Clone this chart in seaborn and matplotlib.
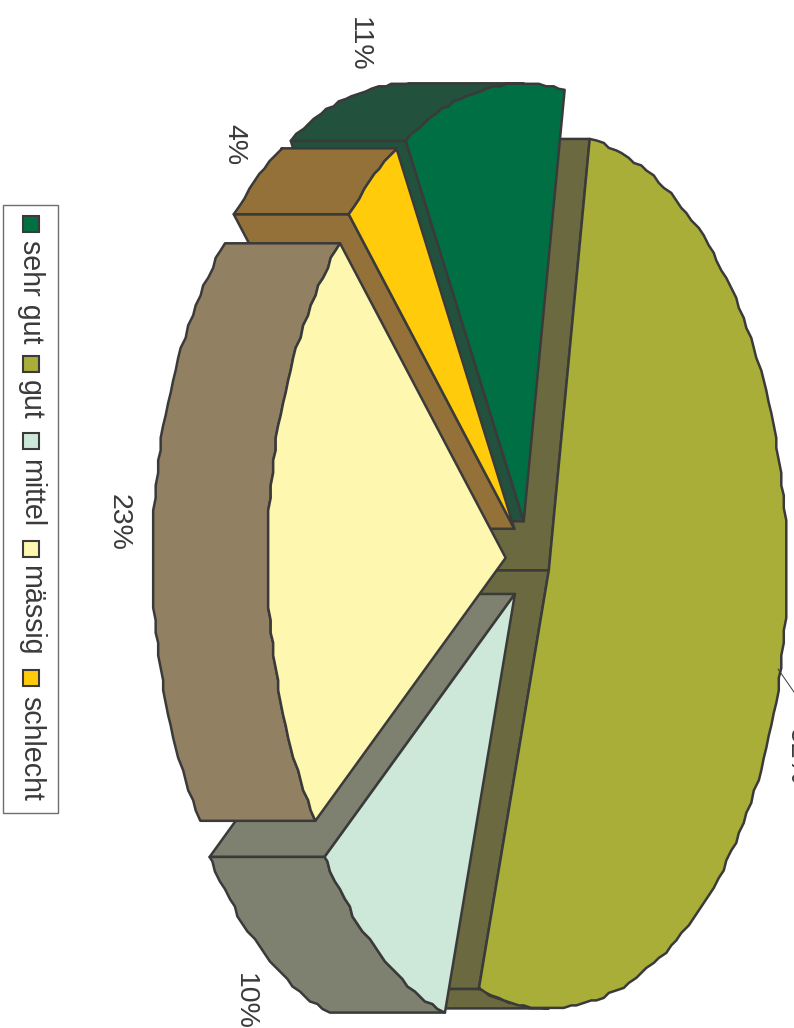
import numpy as np
import matplotlib
matplotlib.use("Agg")
import matplotlib.pyplot as plt
from matplotlib.patches import Polygon, Rectangle
import seaborn as sns

# data
categories = ["sehr gut", "gut", "mittel", "mässig", "schlecht"]
values = [11, 52, 10, 23, 4]
pct_labels = ["11%", "52%", "10%", "23%", "4%"]
face_colors = ["#007044", "#a8ae38", "#cde8d8", "#fef7b0", "#ffcb0a"]
wall_colors = ["#22523d", "#6b693f", "#7e8070", "#918062", "#937138"]
draw_order = ["gut", "sehr gut", "mittel", "schlecht", "mässig"]

# layout (pixels of the 794x1028 canvas)
W, H = 794, 1028
CX, CY, RX, RY = 527.5, 561, 238, 438
EXPLODE = 0.092
DEPTH = 115
START_DEG = -119.7
SNAP = 2.5
EDGE = "#3a3a3a"
label_pos = {"11%": (359, 44), "52%": (797, 756), "10%": (245, 1001),
             "23%": (119, 522), "4%": (234, 145)}
legend_box = (3, 205, 55, 608)
legend_sq = [216, 356, 433, 541, 670]
legend_txt = [240, 380, 459, 565, 696]

sns.set_theme(style="white", rc={"font.family": ["Liberation Sans", "DejaVu Sans"]})
plt.rcParams["font.family"] = ["Liberation Sans", "DejaVu Sans"]
faces = sns.color_palette(face_colors)
walls = sns.color_palette(wall_colors)

fig = plt.figure(figsize=(W / 100, H / 100), dpi=100)
ax = fig.add_axes([0, 0, 1, 1])
ax.set_xlim(0, W)
ax.set_ylim(H, 0)
ax.axis("off")

fracs = np.array(values, float) / sum(values) * 360
starts = START_DEG + np.concatenate([[0], np.cumsum(fracs)[:-1]])
ends = starts + fracs


def rim(t0, t1, ox, oy):
    t = np.radians(np.arange(t0, t1 + 1e-6, 1.6))
    t = np.append(t, np.radians(t1))
    x = RX * np.cos(t)
    y = RY * np.sin(t)
    # stepped outline of the reference's rim
    x[1:-1] = np.round(x[1:-1] / SNAP) * SNAP
    y[1:-1] = np.round(y[1:-1] / SNAP) * SNAP
    return np.column_stack([ox + x, oy + y])


def front_range(t0, t1):
    """Part of the rim that faces the viewer (image left)."""
    for lo, hi in ((90, 270), (-270, -90)):
        a, b = max(t0, lo), min(t1, hi)
        if b > a:
            return a, b
    return None


shift = np.array([-DEPTH, 0])
style = dict(ec=EDGE, lw=1.8, joinstyle="round")
z = 1
for name in draw_order:
    i = categories.index(name)
    t0, t1 = starts[i], ends[i]
    mid = np.radians((t0 + t1) / 2)
    ox = CX + EXPLODE * RX * np.cos(mid)
    oy = CY + EXPLODE * RY * np.sin(mid)
    apex = np.array([ox, oy])
    arc = rim(t0, t1, ox, oy)
    # cut faces, only where they face the viewer
    if np.sin(np.radians(t0)) < 0:
        ax.add_patch(Polygon([apex, arc[0], arc[0] + shift, apex + shift], fc=walls[i], zorder=z, **style))
        z += 1
    if np.sin(np.radians(t1)) > 0:
        ax.add_patch(Polygon([apex, arc[-1], arc[-1] + shift, apex + shift], fc=walls[i], zorder=z, **style))
        z += 1
    fr = front_range(t0, t1)
    if fr:
        band = rim(fr[0], fr[1], ox, oy)
        ax.add_patch(Polygon(np.vstack([band, (band + shift)[::-1]]), fc=walls[i], zorder=z, **style))
        z += 1
    ax.add_patch(Polygon(np.vstack([apex, arc]), fc=faces[i], zorder=z, **style))
    z += 1

# percentage labels and the leader line of the clipped one
for s in pct_labels:
    x, y = label_pos[s]
    ax.text(x, y, s, rotation=-90, ha="center", va="center", fontsize=20.5, color=EDGE, zorder=z, clip_on=False)
ax.plot([778, 794], [669, 692], color=EDGE, lw=0.7, zorder=z)

# legend, turned with the chart
x0, y0, w, h = legend_box
ax.add_patch(Rectangle((x0, y0), w, h, fc="white", ec="#6e6e6e", lw=1, zorder=z))
for name, sq, tx, c in zip(categories, legend_sq, legend_txt, faces):
    ax.add_patch(Rectangle((23, sq), 16, 16, fc=c, ec=EDGE, lw=1.5, zorder=z + 1))
    ax.text(31, tx, name, rotation=-90, ha="center", va="top", fontsize=20.6, color=EDGE, zorder=z + 1)

fig.savefig("out.png", dpi=100)
